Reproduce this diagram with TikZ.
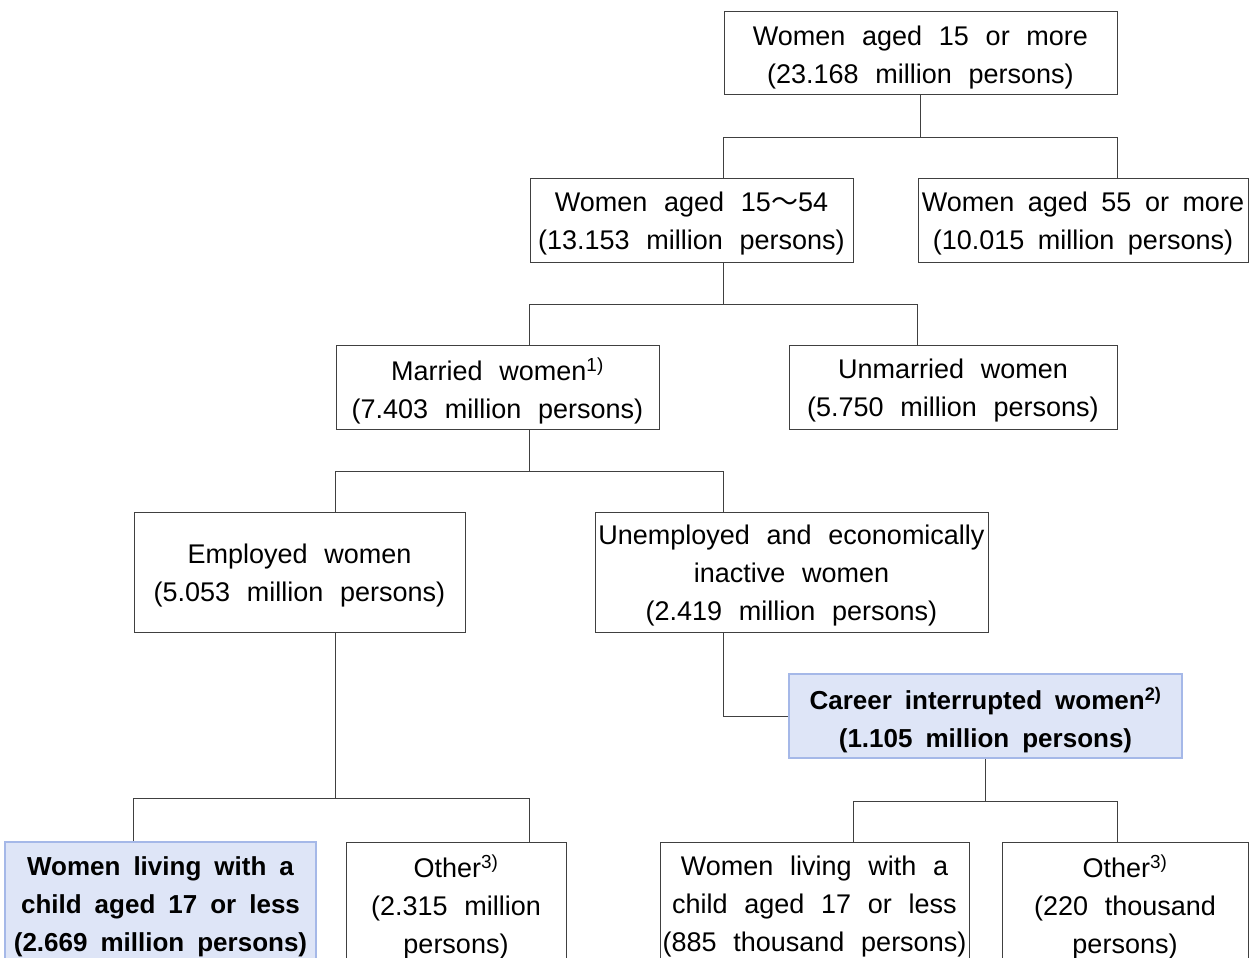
\documentclass[tikz,border=0pt]{standalone}
\usepackage{fontspec}
\setmainfont{Liberation Sans}
\newfontfamily\cjk{Noto Sans CJK KR}
\definecolor{edge}{RGB}{64,64,64}
\definecolor{hlfill}{RGB}{222,229,247}
\definecolor{hlline}{RGB}{165,184,232}
\newcommand{\fnote}[1]{\textsuperscript{#1)}}
\protected\def\boxfont{\fontsize{27}{38}\selectfont\spaceskip=0.62em\relax}
\protected\def\tightfont{\fontsize{27}{38}\selectfont\spaceskip=0.5em\relax}
\protected\def\hlfont{\fontsize{26}{38}\selectfont\bfseries\spaceskip=0.5em\relax}

\begin{document}
\begin{tikzpicture}[x=1pt,y=-1pt,
  box/.style={draw=edge,line width=1pt,align=center,inner sep=0pt,font=\boxfont,
    execute at begin node={\setbox0=\hbox\bgroup},
    execute at end node={\egroup\ht0=\dimexpr\ht0+8pt\relax\box0}},
  tight/.style={font=\tightfont},
  hbox/.style={box,draw=hlline,fill=hlfill,line width=2.5pt,font=\hlfont},
  link/.style={draw=edge,line width=1pt}]
  \useasboundingbox (0,0) rectangle (1254,958);
  \clip (0,0) rectangle (1254,958);

  \node[box,minimum width=393,minimum height=83] (all)   at (920.5,53.5) {Women aged 15 or more\\(23.168 million persons)};
  \node[box,minimum width=323,minimum height=84] (age1)  at (691.5,220)  {Women aged 15{\cjk ～}54\\(13.153 million persons)};
  \node[box,tight,minimum width=330,minimum height=84] (age2)  at (1083,220)   {Women aged 55 or more\\(10.015 million persons)};
  \node[box,minimum width=323,minimum height=84] (mar)   at (497.5,387)  {Married women\fnote{1}\\(7.403 million persons)};
  \node[box,minimum width=328,minimum height=84] (unmar) at (953,387)    {Unmarried women\\(5.750 million persons)};
  \node[box,minimum width=331,minimum height=120] (emp)  at (299.5,572)  {Employed women\\(5.053 million persons)};
  \node[box,minimum width=393,minimum height=120] (unemp) at (791.5,572) {Unemployed and economically\\inactive women\\(2.419 million persons)};
  \node[hbox,minimum width=393,minimum height=84] (career) at (985.5,716) {Career interrupted women\fnote{2}\\(1.105 million persons)};
  \node[hbox,minimum width=311,minimum height=122] (kidsA) at (160.5,903) {Women living with a\\child aged 17 or less\\(2.669 million persons)};
  \node[box,minimum width=220,minimum height=122] (otherA) at (456,903)  {Other\fnote{3}\\(2.315 million\\persons)};
  \node[box,minimum width=309,minimum height=122] (kidsB) at (814.5,903) {Women living with a\\child aged 17 or less\\(885 thousand persons)};
  \node[box,minimum width=246,minimum height=122] (otherB) at (1125,903) {Other\fnote{3}\\(220 thousand\\persons)};

  \coordinate (split) at ([yshift=42pt]kidsA.north -| emp.west);

  \draw[link] (all.south) -- ++(0,42) -| (age1.north -| all.west);
  \draw[link] (all.south) ++(0,42) -| (age2.north -| all.east);
  \draw[link] (age1.south -| all.west) -- ++(0,42) -| (mar.north -| age1.west);
  \draw[link] (age1.south -| all.west) ++(0,42) -| (unmar.north -| age2.west);
  \draw[link] (mar.south -| age1.west) -- ++(0,42) -| (emp.north -| mar.west);
  \draw[link] (mar.south -| age1.west) ++(0,42) -| (unemp.north -| all.west);
  \draw[link] (emp.south -| mar.west) -- (mar.west |- split);
  \draw[link] (kidsA.north -| split) -- (split) -| (otherA.north -| age1.west);
  \draw[link] (unemp.south -| all.west) |- (career.west);
  \draw[link] (career.south) -- ++(0,42) -| (kidsB.north -| age1.east);
  \draw[link] (career.south) ++(0,42) -| (otherB.north -| all.east);
\end{tikzpicture}
\end{document}
